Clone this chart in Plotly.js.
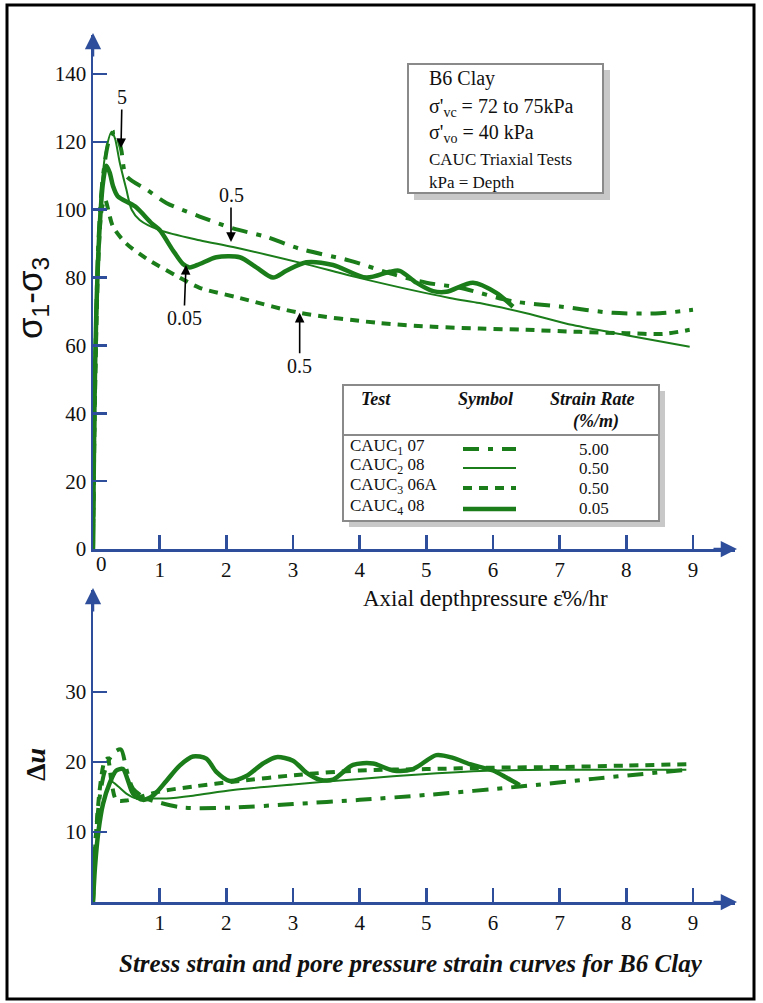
<!DOCTYPE html>
<html>
<head>
<meta charset="utf-8">
<script src="https://cdn.plot.ly/plotly-3.0.1.min.js"></script>
<style>html,body{margin:0;padding:0;background:#fff;}#chart{width:763px;height:1003px;}</style>
</head>
<body>
<div id="chart"></div>
<script>
// ---------- DATA ----------
// Top panel: deviator stress (sigma1 - sigma3) vs axial strain
const topX_CAUC1 = [0,0.03,0.08,0.15,0.25,0.33,0.42,0.5,0.8,1.1,1.6,2.1,2.6,3.1,3.85,4.5,5.0,5.5,6.3,7.0,7.8,8.5,9.0];
const topY_CAUC1 = [0,50,90,110,121,123,118,110,106,102,98,94.5,92,88.5,85,81,78.5,77,73,71.5,69.6,69.5,70.5];

const topX_CAUC2 = [0,0.02,0.06,0.12,0.2,0.28,0.33,0.4,0.5,0.58,0.7,1.0,1.6,2.1,3.1,4.1,5.35,5.8,6.5,7.2,8.0,8.95];
const topY_CAUC2 = [0,40,80,105,118,123,121,114,106,100,97,94,91,89,84.4,79.4,74,72.5,69.5,66,63,59.6];

const topX_CAUC3 = [0,0.03,0.08,0.13,0.18,0.3,0.5,0.7,0.85,1.3,1.6,2.2,3.1,4.3,5.1,5.8,6.5,7.3,8.0,8.55,8.95];
const topY_CAUC3 = [0,45,85,100,103,95,90,87,85,80,77,74,69.6,66.6,65.5,65,64.6,64,63.6,63.4,64.6];

const topX_CAUC4 = [0,0.02,0.05,0.1,0.15,0.2,0.25,0.3,0.37,0.63,0.88,1.0,1.2,1.35,1.45,1.6,1.85,2.2,2.45,2.7,2.9,3.2,3.6,4.1,4.45,4.6,4.85,5.1,5.3,5.7,6.05,6.3];
const topY_CAUC4 = [0,40,70,95,108,113,111,107,104,101,96,94,88,84,83,84,86,86,83,80,82,84.5,83.7,80,81.7,82,78.5,76,75.8,78.5,75.5,71.4];

// Bottom panel: pore pressure change (Δu) vs axial strain
const botX_CAUC1 = [0,0.04,0.1,0.17,0.25,0.33,0.42,0.5,0.6,0.8,1.0,1.35,2.1,3.0,4.0,5.0,6.4,7.5,8.9];
const botY_CAUC1 = [0,9,15,18.5,20.5,21.5,21.8,19,16.2,14.8,14.2,13.5,13.5,14,14.6,15.3,16.5,17.6,18.9];

const botX_CAUC2 = [0,0.05,0.12,0.2,0.28,0.38,0.5,0.65,0.85,1.1,1.5,2.1,3.0,4.0,5.0,6.0,7.0,8.0,8.9];
const botY_CAUC2 = [0,7,12.5,15.8,17.2,16.5,15.5,14.8,14.8,14.8,15.2,16,16.8,17.6,18.3,18.8,18.9,18.9,18.9];

const botX_CAUC3 = [0,0.04,0.1,0.17,0.22,0.28,0.35,0.5,0.7,1.0,1.5,2.1,3.1,4.0,5.0,6.0,7.0,8.0,8.9];
const botY_CAUC3 = [0,9,16,20,20.5,17,14.6,14.5,15,15.8,16.5,17.2,18.2,18.8,19,19.2,19.3,19.5,19.7];

const botX_CAUC4 = [0,0.03,0.08,0.15,0.25,0.35,0.45,0.52,0.6,0.75,0.9,1.1,1.3,1.5,1.7,1.85,2.05,2.3,2.55,2.75,3.0,3.2,3.4,3.6,3.9,4.2,4.5,4.8,5.15,5.4,5.65,6.0,6.2,6.4];
const botY_CAUC4 = [0,5,10,14,17,18.8,19,17.5,15.5,14.6,15.2,17.3,19.5,20.8,20.5,18.6,17.3,18,19.8,20.7,20.2,18.5,17.5,17.5,19.6,19.8,18.8,19,21,20.6,19.7,18.8,17.8,16.7];

const xTicks = [1,2,3,4,5,6,7,8,9];
const topYTicks = [0,20,40,60,80,100,120,140];
const botYTicks = [10,20,30];

const legendTests = ['CAUC<sub>1</sub> 07','CAUC<sub>2</sub> 08','CAUC<sub>3</sub> 06A','CAUC<sub>4</sub> 08'];
const legendRates = ['5.00','0.50','0.50','0.05'];

// ---------- STYLE ----------
const GREEN = '#1a7d1a';
const BLUE = '#2E4D9B';
const SERIF = 'Liberation Serif';
const styles = [
  {width:4, dash:'16px,9px,5px,9px'},   // CAUC1 dash-dot
  {width:2, dash:'solid'},              // CAUC2 thin
  {width:4, dash:'9px,7px'},            // CAUC3 dashed
  {width:4.5, dash:'solid'}             // CAUC4 thick
];

// plot-area pixel frame: x 93..735, y 35..902
const L=93, R=735, T=35, B=902;
const PX = px => (px - L)/(R - L);
const PY = py => (B - py)/(B - T);

const topSeries = [[topX_CAUC1,topY_CAUC1],[topX_CAUC2,topY_CAUC2],[topX_CAUC3,topY_CAUC3],[topX_CAUC4,topY_CAUC4]];
const botSeries = [[botX_CAUC1,botY_CAUC1],[botX_CAUC2,botY_CAUC2],[botX_CAUC3,botY_CAUC3],[botX_CAUC4,botY_CAUC4]];

const traces = [];
topSeries.forEach((s,i)=>traces.push({x:s[0],y:s[1],xaxis:'x',yaxis:'y',mode:'lines',
  line:{color:GREEN,width:styles[i].width,dash:styles[i].dash,shape:'spline',smoothing:0.8},hoverinfo:'skip',showlegend:false}));
botSeries.forEach((s,i)=>traces.push({x:s[0],y:s[1],xaxis:'x2',yaxis:'y2',mode:'lines',
  line:{color:GREEN,width:styles[i].width,dash:styles[i].dash,shape:'spline',smoothing:0.8},hoverinfo:'skip',showlegend:false}));

const axisCommon = {
  showline:true, linecolor:BLUE, linewidth:2.5, ticks:'inside', ticklen:14, tickwidth:2.5, tickcolor:BLUE,
  showgrid:false, zeroline:false, tickfont:{family:SERIF,size:21,color:'#111'}, fixedrange:true
};

const topDomainBottom = PY(549);
const botDomainTop = PY(590);

const shapes = [];
const annotations = [];

// outer frame
shapes.push({type:'rect',xref:'paper',yref:'paper',x0:PX(7),x1:PX(754),y0:PY(5),y1:PY(999),line:{color:'#000',width:3}});

// info box with shadow
shapes.push({type:'rect',xref:'paper',yref:'paper',x0:PX(414),x1:PX(610),y0:PY(70),y1:PY(200),fillcolor:'#c8c8c8',line:{width:0}});
shapes.push({type:'rect',xref:'paper',yref:'paper',x0:PX(408),x1:PX(603),y0:PY(64),y1:PY(193),fillcolor:'#fff',line:{color:'#8a8a8a',width:2}});
const infoLines = [
  ['B6 Clay',78,20],
  ["σ'<sub>vc</sub> = 72 to 75kPa",107,20],
  ["σ'<sub>vo</sub> = 40 kPa",134,20],
  ['CAUC Triaxial Tests',160,17],
  ['kPa = Depth',182,17]
];
infoLines.forEach(l=>annotations.push({xref:'paper',yref:'paper',x:PX(427),y:PY(l[1]),xanchor:'left',yanchor:'middle',
  text:l[0],showarrow:false,font:{family:SERIF,size:l[2],color:'#111'}}));

// legend table with shadow
shapes.push({type:'rect',xref:'paper',yref:'paper',x0:PX(349),x1:PX(665),y0:PY(391),y1:PY(527),fillcolor:'#c8c8c8',line:{width:0}});
shapes.push({type:'rect',xref:'paper',yref:'paper',x0:PX(343),x1:PX(659),y0:PY(385),y1:PY(521),fillcolor:'#fff',line:{color:'#8a8a8a',width:2}});
shapes.push({type:'line',xref:'paper',yref:'paper',x0:PX(343),x1:PX(659),y0:PY(435),y1:PY(435),line:{color:'#8a8a8a',width:2}});
const hdr = [['Test',376,399],['Symbol',485,399],['Strain Rate',592,399],['(%/m)',596,421]];
hdr.forEach(h=>annotations.push({xref:'paper',yref:'paper',x:PX(h[1]),y:PY(h[2]),xanchor:'center',yanchor:'middle',
  text:'<b><i>'+h[0]+'</i></b>',showarrow:false,font:{family:SERIF,size:18,color:'#111'}}));
const rowY = [449,468,488,509];
legendTests.forEach((t,i)=>{
  annotations.push({xref:'paper',yref:'paper',x:PX(348),y:PY(rowY[i]-2),xanchor:'left',yanchor:'middle',
    text:t,showarrow:false,font:{family:SERIF,size:17,color:'#111'}});
  annotations.push({xref:'paper',yref:'paper',x:PX(594),y:PY(rowY[i]),xanchor:'center',yanchor:'middle',
    text:legendRates[i],showarrow:false,font:{family:SERIF,size:17,color:'#111'}});
  shapes.push({type:'line',xref:'paper',yref:'paper',x0:PX(463),x1:PX(516),y0:PY(rowY[i]),y1:PY(rowY[i]),
    line:{color:GREEN,width:styles[i].width,dash:styles[i].dash}});
});

// axis arrowheads
const arrowBase = {text:'',showarrow:true,arrowhead:2,arrowsize:1.3,arrowwidth:2.5,arrowcolor:BLUE,standoff:0,startstandoff:0};
annotations.push(Object.assign({},arrowBase,{xref:'paper',yref:'paper',x:PX(737),y:PY(549),ax:-25,ay:0}));
annotations.push(Object.assign({},arrowBase,{xref:'paper',yref:'paper',x:PX(737),y:PY(902),ax:-25,ay:0}));
annotations.push(Object.assign({},arrowBase,{xref:'paper',yref:'paper',x:PX(93),y:PY(33),ax:0,ay:25}));
annotations.push(Object.assign({},arrowBase,{xref:'paper',yref:'paper',x:PX(93),y:PY(588),ax:0,ay:25}));

// "0" tick label on top x axis
annotations.push({xref:'paper',yref:'paper',x:PX(101),y:PY(564),xanchor:'center',yanchor:'middle',text:'0',showarrow:false,
  font:{family:SERIF,size:21,color:'#111'}});

// callout arrows (strain rates)
const callBase = {showarrow:true,arrowhead:2,arrowsize:1.2,arrowwidth:1.6,arrowcolor:'#000',standoff:0,
  font:{family:SERIF,size:20,color:'#111'},xref:'x',yref:'y'};
annotations.push(Object.assign({},callBase,{text:'5',x:0.42,y:118.2,ax:1,ay:-51}));
annotations.push(Object.assign({},callBase,{text:'0.5',x:2.07,y:90.5,ax:0,ay:-47}));
annotations.push(Object.assign({},callBase,{text:'0.05',x:1.395,y:83.7,ax:-2,ay:53}));
annotations.push(Object.assign({},callBase,{text:'0.5',x:3.1,y:69.6,ax:0,ay:53}));

// axis titles
annotations.push({xref:'paper',yref:'paper',x:PX(32),y:PY(298),textangle:-90,xanchor:'center',yanchor:'middle',showarrow:false,
  text:'σ<sub>1</sub>-σ<sub>3</sub>',font:{family:'Liberation Sans',size:35,color:'#111'}});
annotations.push({xref:'paper',yref:'paper',x:PX(35),y:PY(765),textangle:-90,xanchor:'center',yanchor:'middle',showarrow:false,
  text:'<b>Δ<i>u</i></b>',font:{family:SERIF,size:28,color:'#111'}});
annotations.push({xref:'paper',yref:'paper',x:PX(485),y:PY(598),xanchor:'center',yanchor:'middle',showarrow:false,
  text:'Axial depthpressure ε\u0307%/hr',font:{family:SERIF,size:23,color:'#111'}});

// caption
annotations.push({xref:'paper',yref:'paper',x:PX(411),y:PY(963),xanchor:'center',yanchor:'middle',showarrow:false,
  text:'<b><i>Stress strain and pore pressure strain curves for B6 Clay</i></b>',font:{family:SERIF,size:25,color:'#111'}});

const layout = {
  width:763, height:1003,
  margin:{l:L, r:763-R, t:T, b:1003-B},
  paper_bgcolor:'#fff', plot_bgcolor:'rgba(0,0,0,0)',
  showlegend:false,
  font:{family:SERIF,color:'#111'},
  xaxis: Object.assign({},axisCommon,{anchor:'y',domain:[0,1],range:[0,9.63],tickmode:'array',tickvals:xTicks}),
  yaxis: Object.assign({},axisCommon,{anchor:'x',domain:[topDomainBottom,1],range:[0,151.5],tickmode:'array',tickvals:topYTicks}),
  xaxis2: Object.assign({},axisCommon,{anchor:'y2',domain:[0,1],range:[0,9.63],tickmode:'array',tickvals:xTicks}),
  yaxis2: Object.assign({},axisCommon,{anchor:'x2',domain:[0,botDomainTop],range:[0,44.6],tickmode:'array',tickvals:botYTicks}),
  shapes:shapes,
  annotations:annotations
};

Plotly.newPlot('chart', traces, layout, {staticPlot:true, displayModeBar:false});
</script>
</body>
</html>
